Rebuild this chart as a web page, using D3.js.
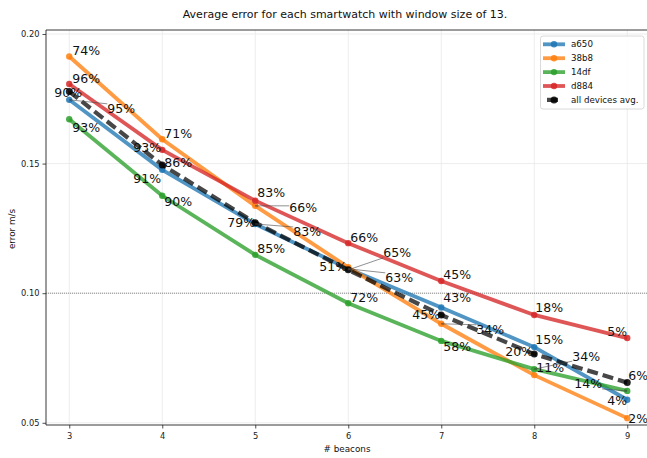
<!DOCTYPE html>
<html>
<head>
<meta charset="utf-8">
<script src="https://cdn.jsdelivr.net/npm/d3@7"></script>
<style>
  body { margin: 0; background: #fff; }
  svg { display: block; font-family: 'DejaVu Sans', sans-serif; }
</style>
</head>
<body>
<script>
// x values and the error per device (m/s)
const beacons = [3, 4, 5, 6, 7, 8, 9];
const a650 = [0.1746, 0.1476, 0.1267, 0.1094, 0.0945, 0.0792, 0.0589];
const b38b8 = [0.1913, 0.1594, 0.1337, 0.1100, 0.0882, 0.0684, 0.0518];
const c14df = [0.1671, 0.1376, 0.1148, 0.0961, 0.0816, 0.0707, 0.0623];
const d884 = [0.1807, 0.1553, 0.1357, 0.1193, 0.1047, 0.0916, 0.0827];
const avgAll = [0.1778, 0.1495, 0.1272, 0.1090, 0.0916, 0.0765, 0.0655];

// percentage annotations per point
const a650Labels = ['95%', '91%', '83%', '63%', '43%', '15%', '4%'];
const b38b8Labels = ['74%', '71%', '66%', '51%', '34%', '11%', '2%'];
const c14dfLabels = ['93%', '90%', '85%', '72%', '58%', '34%', '14%'];
const d884Labels = ['96%', '93%', '83%', '66%', '45%', '18%', '5%'];
const avgLabels = ['90%', '86%', '79%', '65%', '45%', '20%', '6%'];

const yTicks = [0.05, 0.10, 0.15, 0.20];

// label nudges in px (text left edge, text middle) relative to the point
const a650Shift = [[38, 9], [-29, 9], [38, 8], [37, 9], [2, -10], [1, -8], [-20, 1]];
const b38b8Shift = [[3, -6], [2, -6], [34, 2], [-29, -1], [35, 6], [2, -8], [1, 0]];
const c14dfShift = [[3, 8], [2, 6], [2, -6], [2, -6], [2, 6], [38, -13], [-53, -7]];
const d884Shift = [[3, -6], [-29, -2], [2, -8], [2, -6], [2, -7], [1, -7], [-20, -7]];
const avgShift = [[-15, 1], [2, -2], [-28, 0], [35, -17], [-29, 0], [-29, -3], [1, -7]];

const series = [
  { name: 'a650', values: a650, labels: a650Labels, shift: a650Shift, color: '#1f77b4' },
  { name: '38b8', values: b38b8, labels: b38b8Labels, shift: b38b8Shift, color: '#ff7f0e' },
  { name: '14df', values: c14df, labels: c14dfLabels, shift: c14dfShift, color: '#2ca02c' },
  { name: 'd884', values: d884, labels: d884Labels, shift: d884Shift, color: '#d62728' },
  { name: 'all devices avg.', values: avgAll, labels: avgLabels, shift: avgShift, color: '#000', avg: true }
];

const width = 647;
const height = 458;

const svg = d3.select('body').append('svg')
  .attr('width', width)
  .attr('height', height);

const xScale = d3.scaleLinear().domain([2.75, 9.25]).range([46, 650.5]);
const yScale = d3.scaleLinear().domain([0.04915, 0.20154]).range([425, 30]);

const plotLeft = 46, plotRight = 650.5, plotTop = 30, plotBottom = 425;

// grid
svg.append('g').selectAll('line').data(beacons)
  .enter().append('line')
  .attr('x1', d => xScale(d)).attr('x2', d => xScale(d))
  .attr('y1', plotTop).attr('y2', plotBottom)
  .attr('stroke', '#e8e8e8').attr('stroke-width', 0.8);
svg.append('g').selectAll('line').data(yTicks)
  .enter().append('line')
  .attr('x1', plotLeft).attr('x2', plotRight)
  .attr('y1', d => yScale(d)).attr('y2', d => yScale(d))
  .attr('stroke', '#e8e8e8').attr('stroke-width', 0.8);

// 0.10 reference line
svg.append('line')
  .attr('x1', plotLeft).attr('x2', plotRight)
  .attr('y1', yScale(0.10)).attr('y2', yScale(0.10))
  .attr('stroke', '#444').attr('stroke-width', 0.6)
  .attr('stroke-dasharray', '1,1');

// axes
const xAxis = d3.axisBottom(xScale).tickValues(beacons).tickFormat(d3.format('d')).tickSize(3.5).tickSizeOuter(0);
const yAxis = d3.axisLeft(yScale).tickValues(yTicks).tickFormat(d3.format('.2f')).tickSize(3.5).tickSizeOuter(0);

const xAxisG = svg.append('g').attr('transform', `translate(0, ${plotBottom})`).call(xAxis);
const yAxisG = svg.append('g').attr('transform', `translate(${plotLeft}, 0)`).call(yAxis);
[xAxisG, yAxisG].forEach(g => {
  g.select('.domain').remove();
  g.selectAll('text').attr('font-size', 8.3).attr('fill', '#222').attr('font-family', 'DejaVu Sans');
  g.selectAll('line').attr('stroke', '#222').attr('stroke-width', 0.8);
});
xAxisG.selectAll('text').attr('dy', '0.95em');

// spines
svg.append('path')
  .attr('d', `M${plotLeft},${plotTop}H${plotRight}V${plotBottom}H${plotLeft}Z`)
  .attr('fill', 'none').attr('stroke', '#222').attr('stroke-width', 0.9);

// lines
const line = d3.line()
  .x((d, i) => xScale(beacons[i]))
  .y(d => yScale(d));

const plot = svg.append('g');
series.forEach(s => {
  plot.append('path')
    .attr('d', line(s.values))
    .attr('fill', 'none')
    .attr('stroke', s.avg ? '#000' : s.color)
    .attr('stroke-opacity', s.avg ? 0.72 : 0.78)
    .attr('stroke-width', s.avg ? 4.2 : 3.8)
    .attr('stroke-dasharray', s.avg ? '11,5' : null);
  plot.selectAll(null).data(s.values)
    .enter().append('circle')
    .attr('cx', (d, i) => xScale(beacons[i]))
    .attr('cy', d => yScale(d))
    .attr('r', s.avg ? 3.5 : 3.2)
    .attr('fill', s.color)
    .attr('fill-opacity', 0.85);
});

// arrow head
svg.append('defs').append('marker')
  .attr('id', 'arr')
  .attr('viewBox', '0 0 10 10')
  .attr('refX', 10).attr('refY', 5)
  .attr('markerWidth', 5).attr('markerHeight', 5)
  .attr('orient', 'auto')
  .append('path')
  .attr('d', 'M0,1L10,5L0,9')
  .attr('fill', 'none').attr('stroke', '#444').attr('stroke-width', 1.2);

// annotations
const annot = svg.append('g');
series.forEach(s => {
  s.values.forEach((v, i) => {
    const px = xScale(beacons[i]);
    const py = yScale(v);
    const tx = px + s.shift[i][0];
    const ty = py + s.shift[i][1];
    const t = annot.append('text')
      .attr('x', tx).attr('y', ty)
      .attr('dy', '0.36em')
      .attr('font-size', 12.5)
      .attr('fill', '#111')
      .text(s.labels[i]);
    const w = t.node().getComputedTextLength();
    const bx = Math.max(tx, Math.min(px, tx + w));
    const by = Math.max(ty - 5, Math.min(py, ty + 5));
    const dist = Math.hypot(px - bx, py - by);
    if (dist > 6) {
      annot.append('line')
        .attr('x1', bx).attr('y1', by)
        .attr('x2', px).attr('y2', py)
        .attr('stroke', '#444').attr('stroke-width', 0.6)
        .attr('marker-end', 'url(#arr)');
    }
  });
});

// title and axis labels
svg.append('text')
  .attr('x', 345).attr('y', 18)
  .attr('text-anchor', 'middle')
  .attr('font-size', 11)
  .attr('fill', '#111')
  .text('Average error for each smartwatch with window size of 13.');

svg.append('text')
  .attr('x', 347).attr('y', 452)
  .attr('text-anchor', 'middle')
  .attr('font-size', 8.8)
  .attr('fill', '#111')
  .text('# beacons');

svg.append('text')
  .attr('transform', 'translate(15, 229) rotate(-90)')
  .attr('text-anchor', 'middle')
  .attr('font-size', 8.8)
  .attr('fill', '#111')
  .text('error m/s');

// legend
const legend = svg.append('g').attr('transform', 'translate(540.5, 36)');
legend.append('rect')
  .attr('width', 103.5).attr('height', 73)
  .attr('rx', 2.5)
  .attr('fill', '#fff').attr('fill-opacity', 0.85)
  .attr('stroke', '#d0d0d0').attr('stroke-width', 0.8);

const rows = legend.selectAll('g').data(series)
  .enter().append('g')
  .attr('transform', (d, i) => `translate(0, ${8.3 + i * 13.9})`);
rows.append('line')
  .attr('x1', 2.5).attr('x2', 24.5)
  .attr('stroke', d => d.avg ? '#000' : d.color)
  .attr('stroke-opacity', d => d.avg ? 0.72 : 0.78)
  .attr('stroke-width', d => d.avg ? 4.2 : 3.8)
  .attr('stroke-dasharray', d => d.avg ? '0,4,11,20' : null);
rows.append('circle')
  .attr('cx', 13.5).attr('r', d => d.avg ? 3.5 : 3.2)
  .attr('fill', d => d.color).attr('fill-opacity', 0.85);
rows.append('text')
  .attr('x', 30.5).attr('dy', '0.35em')
  .attr('font-size', 8.7)
  .attr('fill', '#111')
  .text(d => d.name);
</script>
</body>
</html>
